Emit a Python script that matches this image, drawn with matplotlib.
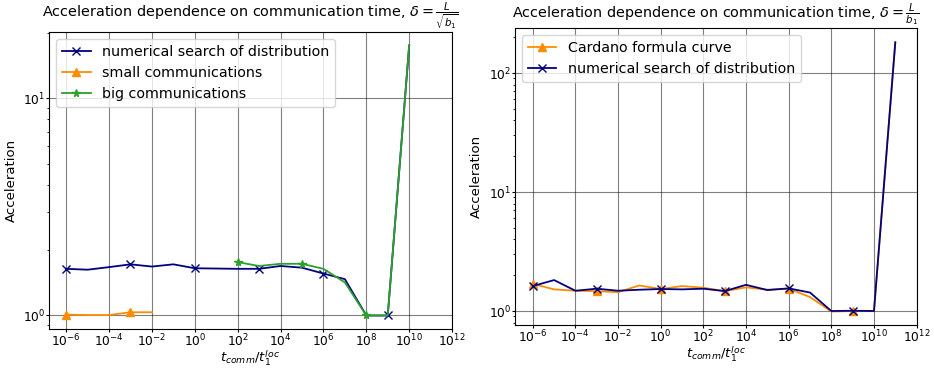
import matplotlib.pyplot as plt
from matplotlib.ticker import NullLocator

# x values: communication time ratio, one point per decade
t_left = [10.0**d for d in range(-6, 11)]
t_small = [10.0**d for d in range(-6, -1)]
t_big = [10.0**d for d in range(2, 11)]
t_right = [10.0**d for d in range(-6, 12)]

# left panel, delta = L / sqrt(b1)
numerical_left = [1.64, 1.625, 1.67, 1.72, 1.68, 1.72, 1.65, 1.645, 1.64, 1.64,
                  1.69, 1.66, 1.56, 1.47, 1.0, 1.0, 17.5]
small_comm = [1.01, 1.005, 1.005, 1.035, 1.035]
big_comm = [1.76, 1.69, 1.73, 1.73, 1.64, 1.42, 1.0, 1.0, 17.5]

# right panel, delta = L / b1
cardano = [1.69, 1.52, 1.48, 1.47, 1.44, 1.64, 1.53, 1.62, 1.57, 1.47,
           1.58, 1.51, 1.54, 1.31, 0.99, 1.0, 1.0, 183]
numerical_right = [1.62, 1.82, 1.48, 1.54, 1.48, 1.51, 1.53, 1.52, 1.54, 1.47,
                   1.66, 1.50, 1.55, 1.43, 1.0, 1.005, 1.0, 181]

fig = plt.figure(figsize=(9.34, 3.69), dpi=100)
ax1 = fig.add_axes([0.0525, 0.1084, 0.4315, 0.805])
ax2 = fig.add_axes([0.551, 0.1192, 0.4304, 0.804])

ax1.plot(t_left, numerical_left, c='navy', marker='x', markevery=3, ms=5.5,
         lw=1.3, label='numerical search of distribution')
ax1.plot(t_small, small_comm, c='darkorange', marker='^', markevery=3, ms=6,
         lw=1.3, label='small communications')
ax1.plot(t_big, big_comm, c='C2', marker='*', markevery=3, ms=5.5,
         lw=1.3, label='big communications')
ax1.set_title(r'Acceleration dependence on communication time, $\delta = \frac{L}{\sqrt{b_1}}$',
              fontsize=10.4)

ax2.plot(t_right, cardano, c='darkorange', marker='^', markevery=3, ms=6,
         lw=1.3, label='Cardano formula curve')
ax2.plot(t_right, numerical_right, c='navy', marker='x', markevery=3, ms=5.5,
         lw=1.3, label='numerical search of distribution')
ax2.set_title(r'Acceleration dependence on communication time, $\delta = \frac{L}{b_1}$',
              fontsize=10.4)

for ax in (ax1, ax2):
    ax.set_xscale('log')
    ax.set_yscale('log')
    ax.set_xlim(right=1e12)
    ax.set_xticks([10.0**d for d in range(-6, 13, 2)])
    ax.xaxis.set_minor_locator(NullLocator())
    ax.grid(True, color='k', alpha=0.5, lw=0.8)
    ax.set_xlabel(r'$t_{comm}/t_1^{loc}$', fontsize=9.5, labelpad=0)
    ax.set_ylabel('Acceleration', fontsize=9.5, labelpad=4)
    ax.tick_params(labelsize=8.8, length=2, pad=0.5)
    ax.tick_params(which='minor', length=1.5)
    ax.legend(loc='upper left', fontsize=10.3)

plt.savefig('out.png')
